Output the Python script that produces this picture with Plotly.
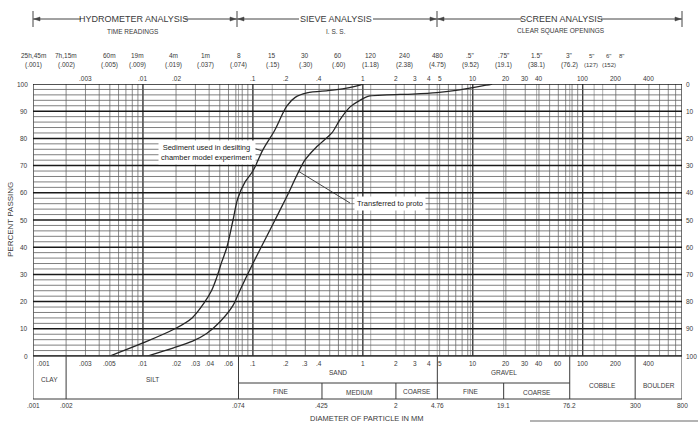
import math
import plotly.graph_objects as go

# ---------------- data ----------------
sed_d = [0.005, 0.01, 0.0195, 0.028, 0.036, 0.042, 0.047, 0.052, 0.058, 0.066, 0.073, 0.085, 0.1, 0.123, 0.158, 0.184, 0.204, 0.241, 0.31, 0.556, 0.94, 1.0]
sed_p = [0, 4.8, 10, 14, 19.5, 24, 29, 34.5, 40, 50, 58, 64, 68, 75.7, 83, 88.6, 92, 95, 96.7, 97.8, 99.6, 100]

proto_d = [0.011, 0.0187, 0.0283, 0.038, 0.050, 0.066, 0.076, 0.1, 0.15, 0.2, 0.297, 0.382, 0.523, 0.618, 0.762, 0.94, 1.158, 1.65, 2.85, 4.71, 7.62, 13.4, 15.0]
proto_p = [0, 2.9, 5.5, 8.3, 12.5, 18.6, 24, 34, 48, 58, 72, 77, 82, 86.8, 91.5, 94, 95.6, 96, 96.3, 96.8, 97.8, 99.6, 100]

sieve_sizes = [0.001, 0.002, 0.005, 0.009, 0.019, 0.037, 0.074, 0.15, 0.30, 0.60, 1.18, 2.38, 4.75, 9.52, 19.1, 38.1, 76.2, 127, 152, 203]
sieve_names = ["25h,45m", "7h,15m", "60m", "19m", "4m", "1m", "8", "15", "30", "60", "120", "240", "480", '.5"', '.75"', '1.5"', '3"', '5"', '6"', '8"']
sieve_mm = ["(.001)", "(.002)", "(.005)", "(.009)", "(.019)", "(.037)", "(.074)", "(.15)", "(.30)", "(.60)", "(1.18)", "(2.38)", "(4.75)", "(9.52)", "(19.1)", "(38.1)", "(76.2)", "(127)", "(152)", ""]

top_vals = [0.003, 0.01, 0.02, 0.1, 0.2, 0.4, 1, 2, 3, 4, 5, 10, 20, 30, 40, 100, 200, 400]
top_text = [".003", ".01", ".02", ".1", ".2", ".4", "1", "2", "3", "4", "5", "10", "20", "30", "40", "100", "200", "400"]

row_vals = [0.003, 0.005, 0.01, 0.02, 0.03, 0.04, 0.06, 0.1, 0.2, 0.3, 0.4, 1, 2, 3, 4, 5, 10, 20, 30, 40, 60, 100, 200, 400]
row_text = [".003", ".005", ".01", ".02", ".03", ".04", ".06", ".1", ".2", ".3", ".4", "1", "2", "3", "4", "5", "10", "20", "30", "40", "60", "100", "200", "400"]

bound_vals = [0.001, 0.002, 0.074, 0.425, 2, 4.76, 19.1, 76.2, 300, 800]
bound_text = [".001", ".002", ".074", ".425", "2", "4.76", "19.1", "76.2", "300", "800"]

pct_ticks = [0, 10, 20, 30, 40, 50, 60, 70, 80, 90, 100]

# ---------------- layout geometry (reference-picture pixels) ----------------
W, H = 698, 424
PLOT_L, PLOT_R, PLOT_T, PLOT_B = 33, 682, 84, 356
L, T, R, B = PLOT_L, PLOT_T, W - PLOT_R, H - PLOT_B
PW, PH = PLOT_R - PLOT_L, PLOT_B - PLOT_T
XMIN, XMAX = 0.001, 800
FONT = "Liberation Sans, Arial, sans-serif"
TXT = "#3a3a3a"


def px(X):
    return (X - PLOT_L) / PW


def py(Y):
    return (PLOT_B - Y) / PH


def lg(v):
    return math.log10(v)


fig = go.Figure()

# ---------------- grid ----------------
minor_v = []
for k in range(-3, 3):
    for m in range(1, 10):
        v = m * 10 ** k
        if XMIN <= v <= XMAX * 1.0001:
            minor_v.append(v)
extra_v = [0.074, 0.15, 0.30, 0.60, 1.18, 2.38, 4.75, 9.52, 19.1, 38.1, 76.2, 127, 152, 300]
major_v = [0.001, 0.01, 0.1, 1, 10, 100, 800]


def vlines(vals):
    xs, ys = [], []
    for v in vals:
        xs += [v, v, None]
        ys += [0, 100, None]
    return xs, ys


def hlines(vals):
    xs, ys = [], []
    for v in vals:
        xs += [XMIN, XMAX, None]
        ys += [v, v, None]
    return xs, ys


for vals, col, wd in [(minor_v, "#6e6e6e", 0.8), (extra_v, "#8a8a8a", 0.7), (major_v, "#2a2a2a", 1.1)]:
    xs, ys = vlines(vals)
    fig.add_trace(go.Scatter(x=xs, y=ys, mode="lines", line=dict(color=col, width=wd),
                             hoverinfo="skip", showlegend=False))

minor_h = [p for p in range(0, 101, 2) if p % 10]
major_h = [p for p in range(0, 101, 10)]
for vals, col, wd in [(minor_h, "#5e5e5e", 0.8), (major_h, "#1a1a1a", 1.5)]:
    xs, ys = hlines(vals)
    fig.add_trace(go.Scatter(x=xs, y=ys, mode="lines", line=dict(color=col, width=wd),
                             hoverinfo="skip", showlegend=False))

# ---------------- curves ----------------
fig.add_trace(go.Scatter(x=sed_d, y=sed_p, mode="lines", name="Sediment used in desilting chamber model experiment",
                         line=dict(color="#262626", width=1.3, shape="spline", smoothing=1.0), showlegend=False))
fig.add_trace(go.Scatter(x=proto_d, y=proto_p, mode="lines", name="Transferred to proto",
                         line=dict(color="#262626", width=1.3, shape="spline", smoothing=0.8), showlegend=False))

ann = []
shapes = []


def text(xv, Y, s, size=7, xanchor="center", xref="x", color=TXT):
    ann.append(dict(x=xv, y=py(Y), xref=xref, yref="paper", text=s, showarrow=False,
                    font=dict(family=FONT, size=size, color=color), xanchor=xanchor, yanchor="middle"))


def pline(X0, Y0, X1, Y1, color="#444", width=1):
    shapes.append(dict(type="line", xref="paper", yref="paper", x0=px(X0), y0=py(Y0), x1=px(X1), y1=py(Y1),
                       line=dict(color=color, width=width)))


def tri(Xtip, Y, direction):
    d = 6 * direction
    path = "M {} {} L {} {} L {} {} Z".format(px(Xtip), py(Y), px(Xtip - d), py(Y - 2), px(Xtip - d), py(Y + 2))
    shapes.append(dict(type="path", xref="paper", yref="paper", path=path, fillcolor="#444",
                       line=dict(color="#444", width=0.5)))


# ---------------- headers ----------------
headers = [("HYDROMETER ANALYSIS", "TIME READINGS", 33, 237, 84, 182),
           ("SIEVE ANALYSIS", "I. S. S.", 237, 437, 302, 370),
           ("SCREEN ANALYSIS", "CLEAR SQUARE OPENINGS", 437, 682, 524, 598)]
for title, sub, xa, xb, ta, tb in headers:
    text(px((ta + tb) / 2), 19, title, size=9, xref="paper")
    text(px((ta + tb) / 2), 31, sub, size=6.5, xref="paper")
    pline(xa, 19, ta - 3, 19)
    pline(tb + 3, 19, xb, 19)
for Xb in [33, 237, 437, 682]:
    pline(Xb, 11, Xb, 27)
for xa, xb in [(33, 237), (237, 437), (437, 682)]:
    tri(xa + 1, 19, -1)
    tri(xb - 1, 19, 1)

# sieve / time reading labels (the crowded 5"/6"/8" labels are nudged apart in pixels)
nudge = {'5"': -3, '6"': 6, '8"': 5}
for v, n, m in zip(sieve_sizes, sieve_names, sieve_mm):
    dx = nudge.get(n, 0)
    xp = px(PLOT_L + (lg(v) - lg(XMIN)) / (lg(XMAX) - lg(XMIN)) * PW + dx)
    size = 6 if dx else 6.5
    text(xp, 56, n, size=size, xref="paper")
    if m:
        text(xp, 65, m, size=size, xref="paper")

for v, s in zip(top_vals, top_text):
    text(lg(v), 78, s, size=6.5)

# percent labels
for p in pct_ticks:
    text(px(30), PLOT_B - p * PH / 100, str(p), size=6.5, xanchor="right", xref="paper")
    text(px(684), PLOT_B - p * PH / 100, str(100 - p), size=6.5, xanchor="left", xref="paper")

ann.append(dict(x=px(10), y=py(220), xref="paper", yref="paper", text="PERCENT PASSING", showarrow=False,
                textangle=-90, font=dict(family=FONT, size=8, color=TXT), xanchor="center", yanchor="middle"))

# ---------------- classification table ----------------
TOP, MID, BOT = 356, 383, 399


def tline(x0, Y0, x1, Y1, width=1):
    shapes.append(dict(type="line", xref="x", yref="paper", x0=x0, x1=x1, y0=py(Y0), y1=py(Y1),
                       line=dict(color="#3a3a3a", width=width)))


tline(XMIN, TOP, XMAX, TOP, 1.4)
tline(XMIN, BOT, XMAX, BOT)
for v in [0.001, 0.002, 0.074, 4.76, 76.2, 300, 800]:
    tline(v, TOP, v, BOT)
tline(0.074, MID, 76.2, MID)
for v in [0.425, 2, 19.1]:
    tline(v, MID, v, BOT)

text(px(35), 363, ".001", size=6.5, xanchor="left", xref="paper")
for v, s in zip(row_vals, row_text):
    text(lg(v), 363, s, size=6.5)

cells = [("CLAY", 0.001, 0.002, 379), ("SILT", 0.002, 0.074, 379), ("SAND", 0.074, 4.76, 372),
         ("GRAVEL", 4.76, 76.2, 372), ("FINE", 0.074, 0.425, 391), ("MEDIUM", 0.425, 2, 392),
         ("COARSE", 2, 4.76, 391), ("FINE", 4.76, 19.1, 391), ("COARSE", 19.1, 76.2, 392),
         ("COBBLE", 76.2, 300, 385), ("BOULDER", 300, 800, 385)]
for s, a, b, Y in cells:
    text((lg(a) + lg(b)) / 2, Y, s, size=6.5)

for v, s in zip(bound_vals, bound_text):
    text(lg(v), 405, s, size=6.5)

text(px(366), 418, "DIAMETER OF PARTICLE IN MM", size=7.5, xref="paper")

# ---------------- curve call-outs ----------------
ann.append(dict(x=px(207), y=py(152), xref="paper", yref="paper",
                text="Sediment used in desilting<br>chamber model experiment", showarrow=False,
                font=dict(family=FONT, size=7.5, color="#222"), bgcolor="white", align="center",
                xanchor="center", yanchor="middle", borderpad=2))
pline(251, 147, 262, 151, color="#333", width=0.9)
ann.append(dict(x=px(390), y=py(203), xref="paper", yref="paper", text="Transferred to proto", showarrow=False,
                font=dict(family=FONT, size=7.5, color="#222"), bgcolor="white",
                xanchor="center", yanchor="middle", borderpad=2))
pline(350, 203, 298, 171, color="#333", width=0.9)

# scan artifact line bottom right
pline(530, 421, 698, 421, color="#9a9a9a", width=1.5)

fig.update_layout(
    width=W, height=H, autosize=False,
    margin=dict(l=L, r=R, t=T, b=B, pad=0),
    paper_bgcolor="white", plot_bgcolor="white",
    xaxis=dict(type="log", range=[lg(XMIN), lg(XMAX)], showgrid=False, zeroline=False,
               showticklabels=False, ticks="", showline=False, fixedrange=True),
    yaxis=dict(range=[0, 100], showgrid=False, zeroline=False, showticklabels=False,
               ticks="", showline=False, fixedrange=True),
    annotations=ann, shapes=shapes, showlegend=False, hovermode=False,
)

# remove the default 8px page margin so the 698x424 figure fills the window exactly
fig.write_html("out.html", config={"displayModeBar": False, "staticPlot": True},
               post_script="document.body.style.margin='0px';document.body.style.overflow='hidden';")
